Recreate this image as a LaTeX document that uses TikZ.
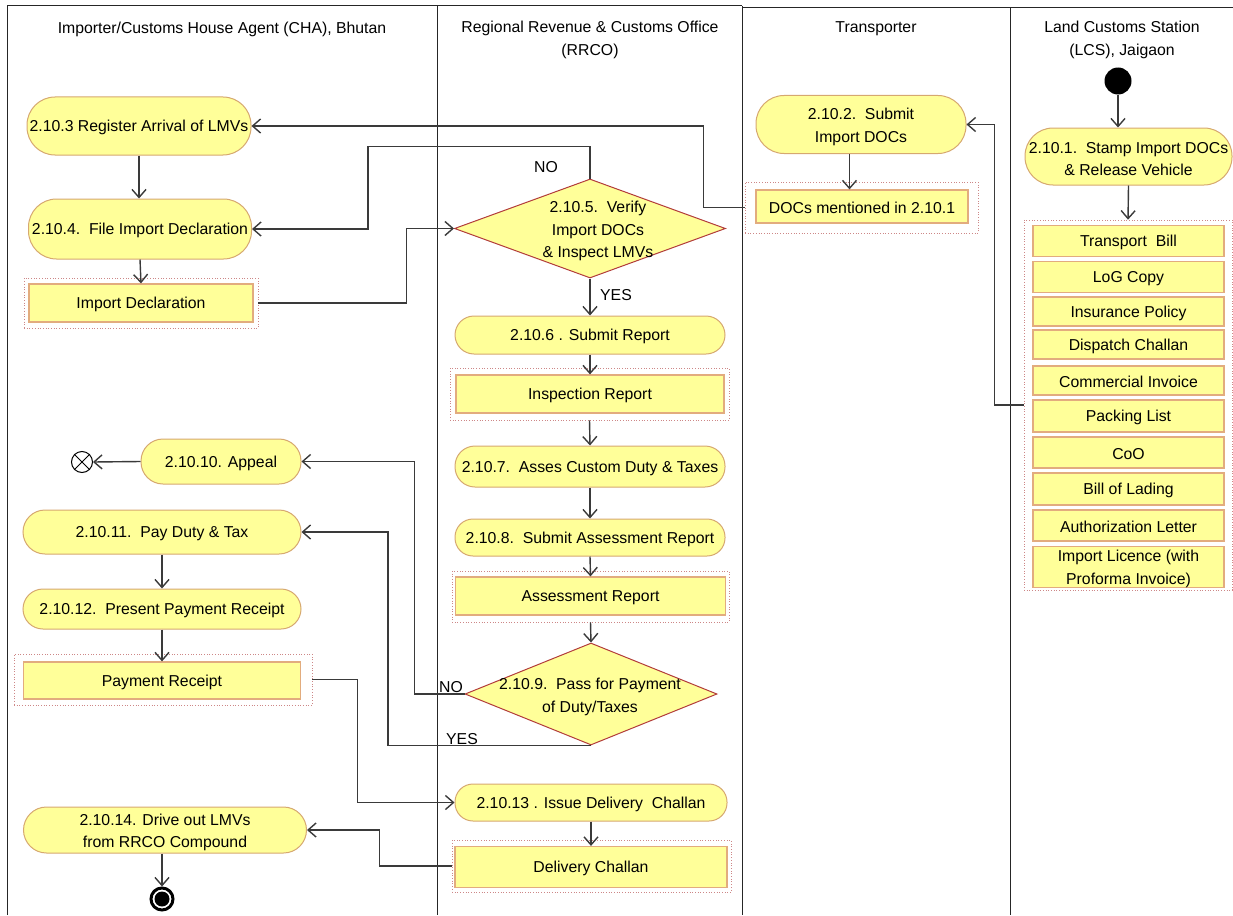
\documentclass[tikz,border=0pt]{standalone}
\usepackage{fontspec}
\setmainfont{Liberation Sans}
\usetikzlibrary{arrows.meta,shapes.geometric}

\definecolor{nodefill}{RGB}{255,255,153}
\definecolor{actborder}{RGB}{214,168,112}
\definecolor{docborder}{RGB}{226,172,126}
\definecolor{grpborder}{RGB}{205,135,135}
\definecolor{decborder}{RGB}{178,60,58}
\definecolor{linecol}{RGB}{58,58,58}

% strut that sets the text a little lower inside its box
\newcommand{\lowstrut}{\rule{0pt}{15pt}}
\newcommand{\lowstrutb}{\rule{0pt}{16.5pt}}

\begin{document}
\begin{tikzpicture}[
  x=1pt, y=-1pt,
  font=\fontsize{15.8}{22.5}\selectfont,
  act/.style={draw=actborder, fill=nodefill, line width=1pt, rounded corners=18pt,
              inner sep=0pt, align=center, execute at begin node=\lowstrut},
  tallact/.style={act, rounded corners=28pt},
  doc/.style={draw=docborder, fill=nodefill, line width=1.2pt, inner sep=0pt, align=center,
              execute at begin node=\lowstrut},
  grp/.style={draw=grpborder, dotted, line width=0.7pt, inner sep=0pt},
  dec/.style={diamond, draw=decborder, fill=nodefill, line width=1pt, inner sep=0pt},
  txt/.style={inner sep=0pt, align=center},
  flow/.style={draw=linecol, line width=1.4pt, -{Straight Barb[length=8pt,width=14pt]}},
  lane/.style={draw=black!85, line width=1pt}
]
\useasboundingbox (0,0) rectangle (1233,915);

% ---------- swimlane frame ----------
\draw[lane] (7,915) -- (7,6) -- (742,6);
\draw[lane] (742,8) -- (1233,8);
\draw[lane] (437,6) -- (437,915);
\draw[lane] (742,6) -- (742,915);
\draw[lane] (1010,8) -- (1010,915);

% ---------- lane headers ----------
\node[txt] (h1) at (222,29) {Importer/Customs House Agent (CHA), Bhutan};
\node[txt] (h2) at (590,40) {Regional Revenue \& Customs Office\\(RRCO)};
\node[txt] (h3) at (876,29) {Transporter};
\node[txt] (h4) at (1122,40) {Land Customs Station\\(LCS), Jaigaon};

% ---------- Land Customs Station ----------
\node[circle, fill=black, minimum size=27pt, inner sep=0pt] (start) at (1118,81) {};
\node[tallact, minimum width=207pt, minimum height=57pt] (a1) at (1128.5,156.5)
  {\lowstrutb 2.10.1.\ \ Stamp Import DOCs\\\& Release Vehicle};
\node[grp, minimum width=208pt, minimum height=370pt] (grp) at (1128,405) {};
\node[doc, minimum width=191pt, minimum height=31pt] (l1) at (1128.5,241) {Transport\ \ Bill};
\node[doc, minimum width=191pt, minimum height=31pt] (l2) at (1128.5,277) {LoG Copy};
\node[doc, minimum width=191pt, minimum height=29pt] (l3) at (1128.5,311.5) {Insurance Policy};
\node[doc, minimum width=191pt, minimum height=29pt] (l4) at (1128.5,344.5) {Dispatch Challan};
\node[doc, minimum width=191pt, minimum height=29pt] (l5) at (1128.5,380.5) {Commercial Invoice};
\node[doc, minimum width=191pt, minimum height=32pt] (l6) at (1128.5,416) {Packing List};
\node[doc, minimum width=191pt, minimum height=31pt] (l7) at (1128.5,452.5) {CoO};
\node[doc, minimum width=191pt, minimum height=32pt] (l8) at (1128.5,489) {Bill of Lading};
\node[doc, minimum width=191pt, minimum height=31pt] (l9) at (1128.5,525.5) {Authorization Letter};
\node[doc, minimum width=191pt, minimum height=40pt] (l10) at (1128.5,567)
  {\lowstrut Import Licence (with\\Proforma Invoice)};

% ---------- Transporter ----------
\node[tallact, minimum width=210pt, minimum height=58pt] (a2) at (861,124.5)
  {\lowstrutb 2.10.2.\ \ Submit\\Import DOCs};
\node[grp, minimum width=233pt, minimum height=51pt] (d2o) at (861.5,207.5) {};
\node[doc, minimum width=212pt, minimum height=33pt] (d2) at (862,206.5) {DOCs mentioned in 2.10.1};

% ---------- Importer / CHA ----------
\node[tallact, minimum width=224pt, minimum height=58pt] (a3) at (139,126) {2.10.3 Register Arrival of LMVs};
\node[tallact, minimum width=223pt, minimum height=60pt] (a4) at (140,229) {2.10.4.\ \ File Import Declaration};
\node[grp, minimum width=234pt, minimum height=50pt] (d4o) at (141,303) {};
\node[doc, minimum width=224pt, minimum height=38pt] (d4) at (141,303) {Import Declaration};

\node[act, minimum width=160pt, minimum height=45pt, rounded corners=22pt] (a10) at (221,461.5) {2.10.10. Appeal};
\node[circle, draw=black, line width=1pt, minimum size=21pt, inner sep=0pt] (fin) at (82,462) {};
\draw[line width=1pt] (fin.north west) -- (fin.south east) (fin.north east) -- (fin.south west);
\node[act, minimum width=278pt, minimum height=44pt, rounded corners=22pt] (a11) at (162,532) {2.10.11.\ \ Pay Duty \& Tax};
\node[act, minimum width=278pt, minimum height=40pt, rounded corners=20pt] (a12) at (162,609) {2.10.12.\ \ Present Payment Receipt};
\node[grp, minimum width=298pt, minimum height=51pt] (d12o) at (163,679.5) {};
\node[doc, minimum width=277pt, minimum height=37pt] (d12) at (162,680.5) {Payment Receipt};

\node[act, minimum width=283pt, minimum height=46pt, rounded corners=23pt] (a14) at (165,830)
  {\lowstrutb 2.10.14. Drive out LMVs\\from RRCO Compound};
\node[circle, draw=black, line width=3pt, minimum size=22pt, inner sep=0pt] (stop) at (162,899) {};
\fill[black] (stop.center) circle (7.5);

% ---------- RRCO ----------
\node[dec, minimum width=271pt, minimum height=99pt] (v5) at (590,228.5) {};
\node[txt] (v5t) at (598,231) {2.10.5.\ \ Verify\\Import DOCs\\\& Inspect LMVs};
\node[act, minimum width=270pt, minimum height=38pt, rounded corners=19pt] (a6) at (590,335) {2.10.6 . Submit Report};
\node[grp, minimum width=279pt, minimum height=52pt] (d6o) at (589.5,394) {};
\node[doc, minimum width=268pt, minimum height=38pt] (d6) at (590,394) {Inspection Report};
\node[act, minimum width=270pt, minimum height=41pt, rounded corners=20pt] (a7) at (590,466.5) {2.10.7.\ \ Asses Custom Duty \& Taxes};
\node[act, minimum width=270pt, minimum height=37pt, rounded corners=18pt] (a8) at (590,537.5) {2.10.8.\ \ Submit Assessment Report};
\node[grp, minimum width=277pt, minimum height=51pt] (d8o) at (590.5,596.5) {};
\node[doc, minimum width=270pt, minimum height=38pt] (d8) at (590.5,596) {Assessment Report};
\node[dec, minimum width=252pt, minimum height=102pt] (v9) at (591,694) {};
\node[txt] (v9t) at (590,697) {2.10.9.\ \ Pass for Payment\\of Duty/Taxes};
\node[act, minimum width=272pt, minimum height=37pt, rounded corners=18pt] (a13) at (591,802.5) {2.10.13 . Issue Delivery\ \ Challan};
\node[grp, minimum width=279pt, minimum height=52pt] (d13o) at (591.5,866) {};
\node[doc, minimum width=272pt, minimum height=41pt] (d13) at (591,867) {Delivery Challan};

% ---------- guard labels ----------
\node[txt] (no5) at (546,167) {NO};
\node[txt] (yes5) at (616,295) {YES};
\node[txt] (no9) at (451,687) {NO};
\node[txt] (yes9) at (462,739) {YES};

% ---------- flows ----------
\coordinate (xs) at (1118,0);
\coordinate (xd) at (849.5,0);
\draw[flow] (start.south) -- (a1.north -| xs);
\draw[flow] (a1.south) -- (grp.north);
\draw[flow] (grp.west) -- ++(-29,0) |- (a2.east);
\draw[flow] (a2.south -| xd) -- (d2.north -| xd);
\draw[flow] (d2o.west) -- ++(-41,0) |- (a3.east);
\draw[flow] (a3.south) -- (a4.north -| a3.south);
\draw[flow] (a4.south) -- (d4.north);
\draw[flow] (d4o.east) -- ++(148,0) |- (v5.west);
\draw[flow] (v5.north) -- ++(0,-32) -- ++(-222,0) |- (a4.east);
\draw[flow] (v5.south) -- (a6.north);
\draw[flow] (a6.south) -- (d6.north);
\draw[flow] (d6o.south) -- (a7.north);
\draw[flow] (a7.south) -- (a8.north);
\draw[flow] (a8.south) -- (d8.north);
\draw[flow] (d8o.south) -- (v9.north);
\draw[flow] (v9.west) -- ++(-50,0) |- (a10.east);
\draw[flow] (v9.south) -- ++(-203,0) |- (a11.east);
\draw[flow] (a10.west) -- (fin.east);
\draw[flow] (a11.south) -- (a12.north);
\draw[flow] (a12.south) -- (d12.north);
\draw[flow] (d12o.east) -- ++(45,0) |- (a13.west);
\draw[flow] (a13.south) -- (d13.north);
\draw[flow] (d13o.west) -- ++(-72,0) |- (a14.east);
\draw[flow] (a14.south -| stop.north) -- (stop.north);
\end{tikzpicture}
\end{document}
